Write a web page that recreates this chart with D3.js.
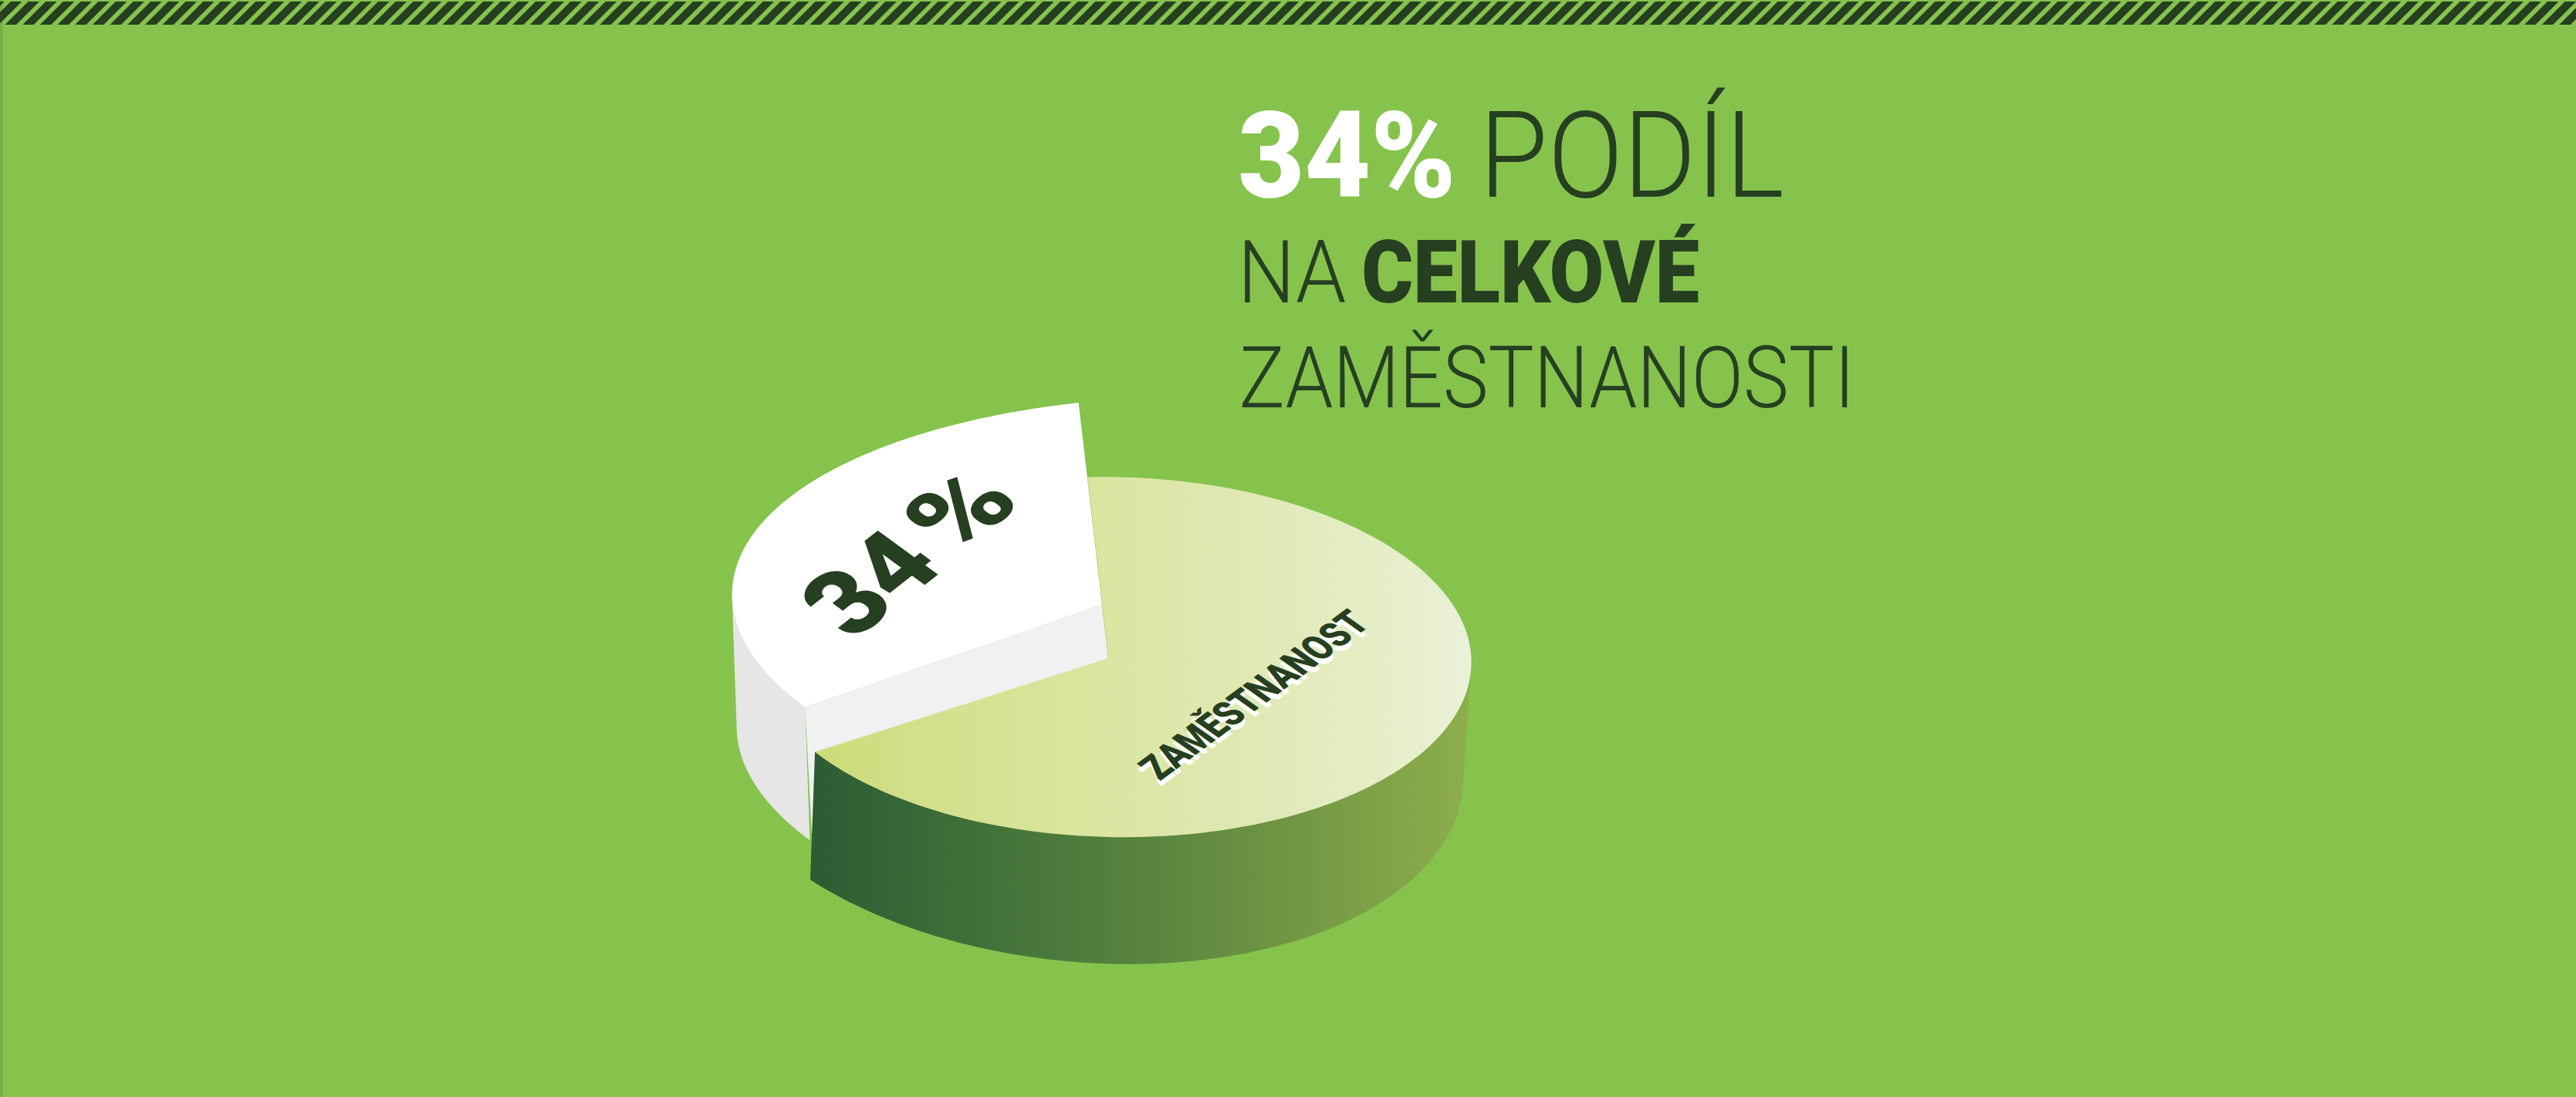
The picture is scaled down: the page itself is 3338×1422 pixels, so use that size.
<!DOCTYPE html>
<html lang="cs"><head><meta charset="utf-8"><style>html,body{margin:0;padding:0;background:#86c34d}svg{display:block}</style></head>
<body><script src="https://cdn.jsdelivr.net/npm/d3@7"></script><script>
// ---- data ----
const categories = ["Ostatní", "Zaměstnanost"];
const shares = [34, 66];
const sliceLabels = ["34 %", "ZAMĚSTNANOST"];

// ---- page ----
const W = 3338, H = 1422;
const INK = "#263f20", BG = "#86c34d";
const svg = d3.select("body").append("svg").attr("width", W).attr("height", H).attr("viewBox", `0 0 ${W} ${H}`);
const defs = svg.append("defs");
svg.append("rect").attr("width", W).attr("height", H).attr("fill", BG);

// hazard band
const band = {top: 2, bottom: 32, period: 22.67, dark: 14.5, start: 6.5};
svg.append("g").selectAll("path").data(d3.range(-3, Math.ceil(W / band.period) + 1)).join("path")
  .attr("fill", INK)
  .attr("d", i => {
    const x = band.start + i * band.period, h = band.bottom - band.top;
    return `M${x},${band.bottom}L${x + band.dark},${band.bottom}L${x + band.dark + h},${band.top}L${x + h},${band.top}Z`;
  });
svg.append("rect").attr("width", 4).attr("height", H).attr("fill", "#3c5a30").attr("opacity", .17);

// ---- pie geometry: d3.pie angles projected on tilted discs ----
const DEG = Math.PI / 180;
const slices = d3.pie().sort(null).value(d => d).startAngle(0).endAngle(2 * Math.PI)(shares);
const [restSlice, mainSlice] = slices;

const disc = (cx, cy, mxs, mxc, my) => t => [cx + mxs * Math.sin(t * DEG) - mxc * Math.cos(t * DEG), cy - my * Math.cos(t * DEG)];
const mainTop = disc(1442.9, 851.7, 463.5, 13.4, 233.5);
const mainBottom = disc(1404.7, 975.2, 488.1, 58.2, 274.5);
const restTop = disc(1614.8, 793.4, 663.9, 54.9, 280.0);

// pie angle -> parameter on each projected disc (the perspective is not angle preserving)
const mainAngle = d3.scaleLinear().domain([mainSlice.startAngle, mainSlice.endAngle]).range([-2.5, 238.2]);
const restAngle = d3.scaleLinear().domain([restSlice.startAngle, restSlice.endAngle]).range([-116.2, -14.3]);

const sweep = (project, a0, a1, n = 160) => d3.range(n + 1).map(i => project(a0 + (a1 - a0) * i / n));
const line = d3.line();

const mainApex = [1436.5, 853], restApex = [1428, 784];
const restDrop = [6, 172], restPanelDrop = [9, 172], restApexDrop = [20, 172];
const plus = (p, d) => [p[0] + d[0], p[1] + d[1]];

const mainA0 = mainAngle(mainSlice.startAngle), mainA1 = mainAngle(mainSlice.endAngle);
const restA0 = restAngle(restSlice.startAngle), restA1 = restAngle(restSlice.endAngle);
const restArc = sweep(restTop, restA0, restA1);

// gradients
const grad = (id, stops) => defs.append("linearGradient").attr("id", id).attr("gradientUnits", "userSpaceOnUse")
  .attr("x1", 1050).attr("x2", 1903).attr("y1", 0).attr("y2", 0)
  .selectAll("stop").data(stops).join("stop").attr("offset", d => d[0]).attr("stop-color", d => d[1]);
grad("side", [[0, "#2c5c33"], [.38, "#4c7a3c"], [.62, "#658d41"], [1, "#8eae4c"]]);
grad("face", [[0, "#cbdc76"], [.16, "#d2e08b"], [.42, "#dae59f"], [.64, "#dfe8b2"], [.85, "#e5edc5"], [1, "#eaf1d8"]]);

// white slice: outer wall, cut wall, top
const restWall = d3.polygonHull(restArc.filter((_, i) => i < 50).flatMap(p => [p, plus(p, restDrop)]));
svg.append("path").attr("d", line(restWall) + "Z").attr("fill", "#e6e6e6");
const rL = restArc[0];
svg.append("path").attr("fill", "#f0f2f1")
  .attr("d", line([rL, restApex, plus(restApex, restApexDrop), plus(rL, restPanelDrop)]) + "Z");
svg.append("path").attr("fill", "#fff").attr("d", line([restApex, ...restArc]) + "Z");

// main slice: wall, then top
const mainWall = d3.polygonHull([...sweep(mainTop, 90, mainA1), ...sweep(mainBottom, 98, mainA1 - 5.2)]);
svg.append("path").attr("d", line(mainWall) + "Z").attr("fill", "url(#side)");
svg.append("path").attr("fill", "url(#face)").attr("d", line([mainApex, ...sweep(mainTop, mainA0, mainA1)]) + "Z");

// ink extents of a string (side bearings excluded)
const ctx = document.createElement("canvas").getContext("2d");
function inkBox(txt, weight, size) {
  ctx.font = `${weight} ${size}px Roboto`;
  const m = ctx.measureText(txt);
  return {left: -m.actualBoundingBoxLeft, right: m.actualBoundingBoxRight};
}

// ---- skewed labels ----
function skewText(txt, o) {
  const ink = inkBox(txt, 900, 100), len = ink.right - ink.left, cap = 71.1;
  const ax = o.run[0] / len, ay = o.run[1] / len, cx = o.down[0] / cap, cy = o.down[1] / cap;
  const ox = (o.off ? o.off[0] : 0), oy = (o.off ? o.off[1] : 0);
  svg.append("text").text(txt).attr("font-family", "Roboto").attr("font-weight", 900).attr("font-size", 100).attr("fill", o.fill)
    .attr("transform", `matrix(${ax},${ay},${cx},${cy},${o.at[0] + ox - ax * ink.left},${o.at[1] + oy - ay * ink.left})`);
}
const [shareNumber, shareSign] = sliceLabels[0].split(" ");
skewText(shareNumber, {fill: INK, at: [1107, 830], run: [117, -92], down: [78, 57]});
skewText(shareSign, {fill: INK, at: [1244, 722], run: [77, -67], down: [78, 57]});
const lab = {at: [1504, 1012], run: [273, -202], down: [31, 22]};
skewText(sliceLabels[1], {...lab, fill: "#fff", off: [1, 7]});
skewText(sliceLabels[1], {...lab, fill: INK});

// ---- headline ----
const headline = [
  {text: "34%",  weight: 900, fill: "#fff", x0: 1607, x1: 1881, base: 255, cap: 111},
  {text: "PODÍL", weight: 300, fill: INK, x0: 1930, x1: 2309, base: 255, cap: 111},
  {text: "NA",   weight: 300, fill: INK, x0: 1613, x1: 1743, base: 392, cap: 80},
  {text: "CELKOVÉ", weight: 900, fill: INK, x0: 1767, x1: 2201, base: 392, cap: 80},
  {text: "ZAMĚSTNANOSTI", weight: 300, fill: INK, x0: 1609, x1: 2394, base: 528, cap: 79}
];
headline.forEach(d => {
  const size = d.cap / 0.711, ink = inkBox(d.text, d.weight, size);
  const sx = (d.x1 - d.x0) / (ink.right - ink.left);
  svg.append("text").text(d.text).attr("font-family", "Roboto").attr("font-weight", d.weight)
    .attr("font-size", size).attr("fill", d.fill)
    .attr("transform", `translate(${d.x0 - ink.left * sx},${d.base}) scale(${sx},1)`);
});
</script></body></html>
